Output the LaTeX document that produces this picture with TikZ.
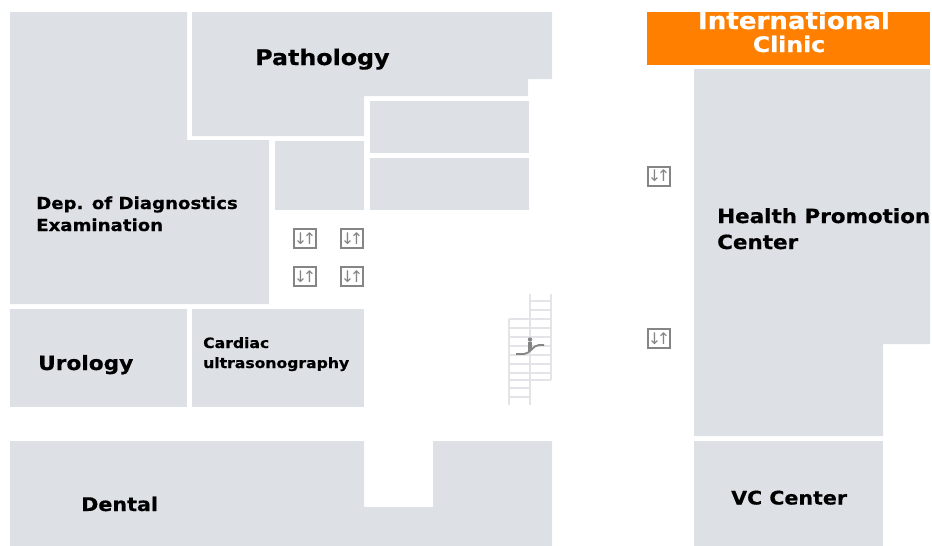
\documentclass[tikz,border=0pt]{standalone}
\usepackage{fontspec}
\setmainfont[BoldFeatures={FakeStretch=1.1,FakeBold=0.6}]{DejaVu Sans}
\definecolor{room}{HTML}{DDE0E5}
\definecolor{clinic}{HTML}{FF8000}
\definecolor{icon}{HTML}{858585}
\definecolor{rail}{HTML}{E2E4E8}
\newcommand{\liftmark}{↓\kern-4.4pt↑}
\tikzset{
  roomfill/.style={fill=room,draw=none},
  lab/.style={font=\bfseries\fontsize{#1}{#1}\selectfont,text=black,inner sep=0pt,anchor=base west,align=left},
  lift/.style={draw=icon,line width=2pt,fill=white,minimum width=21.5pt,minimum height=19pt,inner sep=0pt,text=icon,font=\fontsize{16}{16}\selectfont},
  railline/.style={draw=rail,line width=1.7pt}
}
\begin{document}
\begin{tikzpicture}[x=1pt,y=-1pt]
\useasboundingbox (0,0) rectangle (932,546);
\fill[white] (0,0) rectangle (932,546);
% rooms
\fill[roomfill] (10,12) -- (187,12) -- (187,140) -- (269,140) -- (269,304) -- (10,304) -- cycle;
\fill[roomfill] (192,12) -- (552,12) -- (552,79) -- (528,79) -- (528,96) -- (364,96) -- (364,136) -- (192,136) -- cycle;
\fill[roomfill] (275,141) rectangle (364,210);
\fill[roomfill] (370,101) rectangle (529,153);
\fill[roomfill] (370,158) rectangle (529,210);
\fill[roomfill] (10,309) rectangle (187,407);
\fill[roomfill] (192,309) rectangle (364,407);
\fill[roomfill] (10,441) -- (364,441) -- (364,507) -- (433,507) -- (433,441) -- (552,441) -- (552,546) -- (10,546) -- cycle;
\fill[clinic] (647,12) rectangle (930,65);
\fill[roomfill] (694,69) -- (930,69) -- (930,344) -- (883,344) -- (883,436) -- (694,436) -- cycle;
\fill[roomfill] (694,441) rectangle (883,546);
% labels
\node[lab=21.6] (path) at (255,65) {Pathology};
\node[lab=16.5] (diag) at (36,209) {Dep. of Diagnostics};
\node[lab=16.5] (diag2) at (36,231) {Examination};
\node[lab=19.7] (uro) at (38,370) {Urology};
\node[lab=14.2] (card) at (203,348) {Cardiac};
\node[lab=14.2] (card2) at (203,368) {ultrasonography};
\node[lab=18.8] (dent) at (81,511) {Dental};
\node[lab=19.5] (hp) at (717,223) {Health Promotion};
\node[lab=19.5] (hp2) at (717,249) {Center};
\node[lab=18.7] (vc) at (731,504.5) {VC Center};
\node[lab=23.7,text=white,anchor=base] (ic) at (794,29) {International};
\node[lab=21.4,text=white,anchor=base] (ic2) at (789,52) {Clinic};
% lifts
\node[lift] (l1) at (305,238.5) {\liftmark};
\node[lift] (l2) at (352,238.5) {\liftmark};
\node[lift] (l3) at (305,276.8) {\liftmark};
\node[lift] (l4) at (352,276.8) {\liftmark};
\node[lift] (l5) at (659,176) {\liftmark};
\node[lift] (l6) at (659,338.4) {\liftmark};
% escalator rails
\draw[railline] (530,294) -- (530,405) (551,294) -- (551,380) (509,319) -- (509,405);
\foreach \y in {301,310,319,328,337,346,355,364,373,380} \draw[railline] (530,\y) -- (551,\y);
\foreach \y in {319,328,337,346,355,364,373,380,388,397} \draw[railline] (509,\y) -- (530,\y);
% escalator icon
\draw[icon,line width=1.8pt] (516,354) -- (524,354) .. controls (530,354) and (533,345) .. (539,345) -- (544,345);
\fill[icon] (528,342) rectangle (532,351);
\fill[icon] (530,339.5) circle (2.2pt);
\end{tikzpicture}
\end{document}
